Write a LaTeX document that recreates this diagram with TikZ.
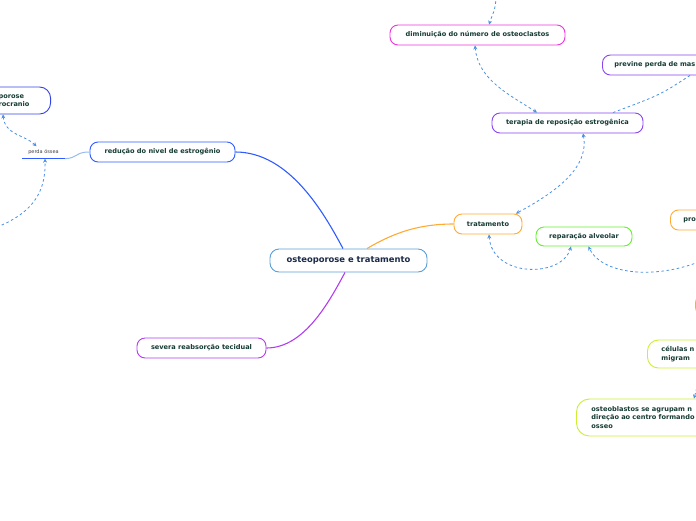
\documentclass[tikz,border=0pt]{standalone}
\usepackage{fontspec}
\setmainfont{DejaVu Sans}
\usetikzlibrary{arrows.meta,calc}
\definecolor{txt}{HTML}{163B33}
\definecolor{maintxt}{HTML}{1B2A48}
\definecolor{mainc}{HTML}{5A9FD8}
\definecolor{bluec}{HTML}{2F5BFF}
\definecolor{leftc}{HTML}{3344E6}
\definecolor{purc}{HTML}{B23CF0}
\definecolor{orc}{HTML}{FFAA33}
\definecolor{grc}{HTML}{66EE33}
\definecolor{magc}{HTML}{EE33DD}
\definecolor{viol}{HTML}{8844EE}
\definecolor{ygc}{HTML}{CCEE33}
\definecolor{relc}{HTML}{4A90E2}
\definecolor{thinc}{HTML}{99BBEE}
\begin{document}
\begin{tikzpicture}[x=1pt,y=-1pt,
  box/.style={draw, rounded corners=8pt, line width=0.9pt, fill=white, text=txt,
    font=\bfseries\fontsize{6.6}{8.4}\selectfont, inner sep=0pt, minimum height=20pt},
  rel/.style={draw=relc, dash pattern=on 2.6pt off 2.6pt, line width=0.8pt},
  tipe/.style={-{Stealth[length=4pt,width=4pt]}},
  tips/.style={{Stealth[length=4pt,width=4pt]}-{Stealth[length=4pt,width=4pt]}},
  conn/.style={line width=1.1pt}]
\useasboundingbox (0,0) rectangle (696,520);
\clip (0,0) rectangle (696,520);

% nodes
\node[box, draw=mainc, text=maintxt, font=\bfseries\fontsize{8.4}{10}\selectfont,
  minimum width=157pt, minimum height=23pt, rounded corners=9pt] (main) at (348.5,260.5) {osteoporose e tratamento};
\node[box, draw=bluec, minimum width=145pt] (redu) at (162.5,152) {redução do nivel de estrogênio};
\node[box, draw=purc, minimum width=129pt] (sev) at (201.5,348) {severa reabsorção tecidual};
\node[box, draw=orc, minimum width=68pt] (trat) at (488,224) {tratamento};
\node[box, draw=grc, minimum width=96pt, minimum height=19pt] (rep) at (584,236.5) {reparação alveolar};
\node[box, draw=viol, minimum width=151pt] (ter) at (567.5,123) {terapia de reposição estrogênica};
\node[box, draw=magc, minimum width=175pt] (dim) at (477.5,35) {diminuição do número de osteoclastos};
\node[box, draw=viol, anchor=west, text width=120pt, align=left, inner xsep=12pt] (prev) at (602,65) {previne perda de mas};
\node[box, draw=orc, anchor=west, text width=60pt, align=left, inner xsep=13pt] (pro) at (670,220) {pro};
\node[box, draw=orc, anchor=west, text width=40pt, align=left, inner xsep=13pt] (oth) at (695,305) {};
\node[box, draw=ygc, anchor=west, text width=80pt, align=left, inner xsep=14pt, minimum height=28pt, rounded corners=11pt] (cel) at (647,354) {células n\\migram};
\node[box, draw=ygc, anchor=west, text width=130pt, align=left, inner xsep=15pt, minimum height=37pt, rounded corners=13pt] (osb) at (576,417.5) {osteoblastos se agrupam n\\direção ao centro formando\\osseo};
\node[box, draw=leftc, anchor=east, text width=36pt, align=left, inner xsep=16pt, minimum height=27pt, rounded corners=11pt] (ost) at (51,100.5) {porose\\rocranio};
\node[text=black!75, font=\fontsize{5}{6}\selectfont, minimum width=43pt, minimum height=12pt, inner sep=0pt] (po) at (43.5,152.5) {perda óssea};
\draw[bluec, line width=1.2pt] (po.south west) -- (po.south east);

% free ends
\coordinate (e1) at (-8,229);
\coordinate (e2) at (496,-4);
\coordinate (e3) at (704,260);
\coordinate (e4) at (698,383);

% main connectors
\draw[conn, bluec] (redu.east) .. controls (290,152) and (325,215) .. ([xshift=-5.5pt]main.north);
\draw[conn, purc] (sev.east) .. controls (305,348) and (330,300) .. ([xshift=-3.5pt]main.south);
\draw[conn, orc] ([xshift=18.5pt]main.north) .. controls (395,232) and (420,224) .. (trat.west);
\draw[thinc, line width=1pt] (redu.west) .. controls (75,152) and (78,158) .. (po.south east);

% relations
\draw[rel, tips] ([xshift=-48pt]ost.south east) .. controls (5,135) and (25,135) .. ([xshift=-7pt]po.north);
\draw[rel, tipe] (e1) .. controls (30,215) and (46,195) .. ([xshift=1.5pt]po.south);
\draw[rel, tipe] (e2) .. controls (496,10) and (492,15) .. ([xshift=11.5pt]dim.north);
\draw[rel, tips] ([xshift=-2.5pt]dim.south) .. controls (478,80) and (510,95) .. ([xshift=-30.5pt]ter.north);
\draw[rel] ([xshift=88pt]prev.south west) .. controls (660,95) .. ([xshift=45.5pt]ter.north);
\draw[rel, tips] ([xshift=15.5pt]ter.south) .. controls (590,170) and (550,195) .. ([xshift=28pt]trat.north);
\draw[rel, tips] ([xshift=1pt]trat.south) .. controls (492,278) and (562,278) .. ([xshift=-13pt]rep.south);
\draw[rel, tipe] (e3) .. controls (650,282) and (600,272) .. ([xshift=4.5pt]rep.south);
\draw[rel, tipe] (e4) -- ([xshift=118pt]osb.north west);
\end{tikzpicture}
\end{document}
